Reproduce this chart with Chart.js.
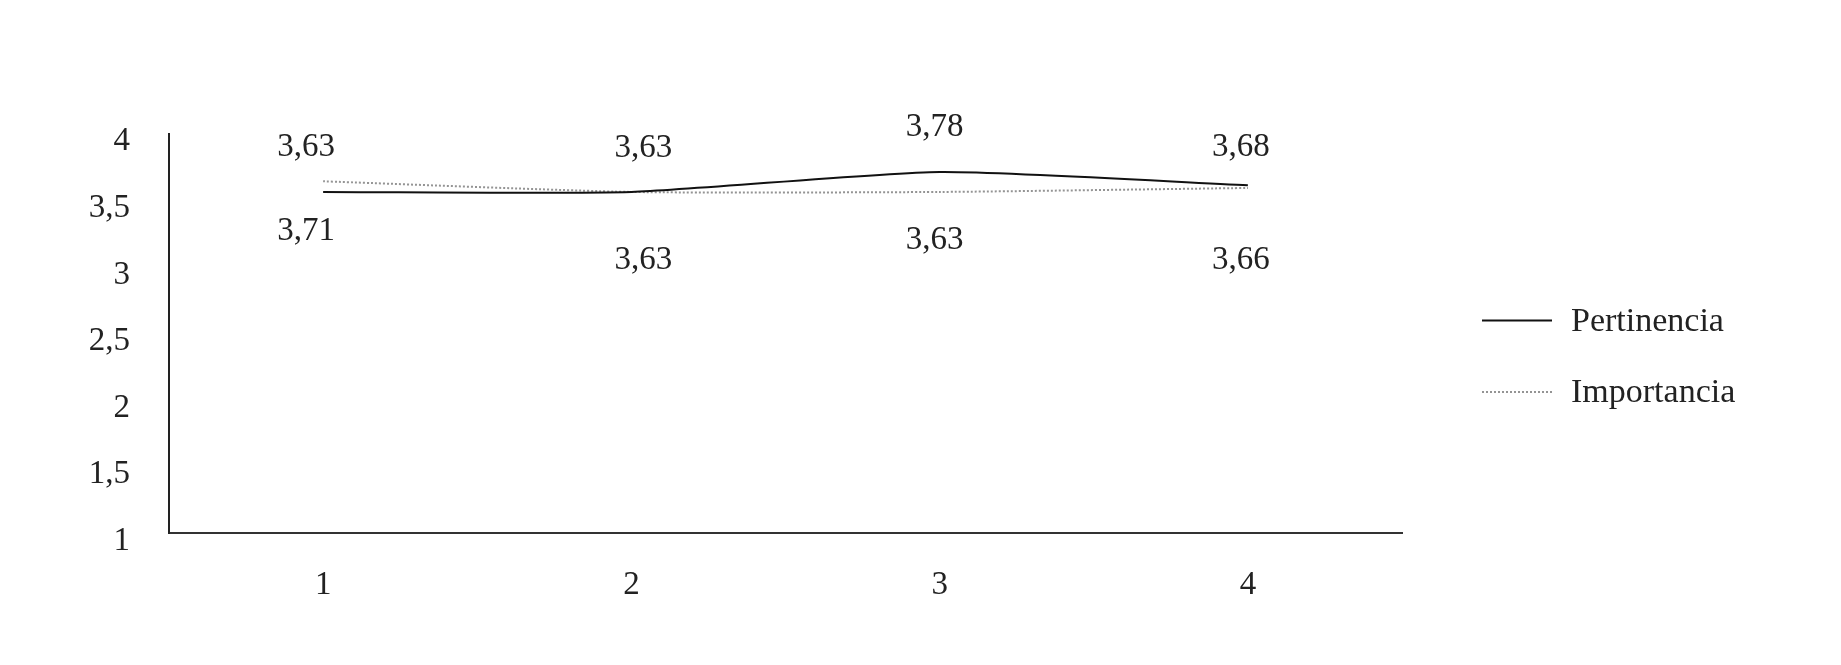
<!DOCTYPE html>
<html>
<head>
<meta charset="utf-8">
<script src="https://cdn.jsdelivr.net/npm/chart.js@4.4.1/dist/chart.umd.min.js"></script>
<style>
  html, body { margin: 0; padding: 0; background: #ffffff; }
  #wrap { width: 1841px; height: 665px; position: relative; }
</style>
</head>
<body>
<div id="wrap"><canvas id="c" width="1841" height="665"></canvas></div>
<script>
// ---- data ----
const categories = ['1', '2', '3', '4'];
const pertinencia = [3.63, 3.63, 3.78, 3.68];
const importancia = [3.71, 3.63, 3.63, 3.66];
const yTickValues = [1, 1.5, 2, 2.5, 3, 3.5, 4];
const seriesNames = ['Pertinencia', 'Importancia'];

// ---- label nudges (style) ----
const labelNudgeX = [-17, 12, -5, -7];
const labelNudgeAbove = [-45, -44, -45, -38];
const labelNudgeBelow = [50, 68, 48, 72];

const FONT = '"Liberation Serif", "Times New Roman", serif';
const TEXT = '#222222';
const fmt = v => String(v).replace('.', ',');

const valueLabels = {
  id: 'valueLabels',
  afterDatasetsDraw(chart) {
    const ctx = chart.ctx;
    ctx.save();
    ctx.font = '33px ' + FONT;
    ctx.fillStyle = TEXT;
    ctx.textAlign = 'center';
    ctx.textBaseline = 'middle';
    chart.data.datasets.forEach((ds, di) => {
      const meta = chart.getDatasetMeta(di);
      meta.data.forEach((pt, i) => {
        const dy = di === 0 ? labelNudgeAbove[i] : labelNudgeBelow[i];
        ctx.fillText(fmt(ds.data[i]), pt.x + labelNudgeX[i], pt.y + dy);
      });
    });
    ctx.restore();
  }
};

const sideLegend = {
  id: 'sideLegend',
  afterDraw(chart) {
    const ctx = chart.ctx;
    ctx.save();
    const x0 = 1482, x1 = 1552, tx = 1571;
    const rows = [320.5, 392];
    chart.data.datasets.forEach((ds, i) => {
      const y = rows[i];
      ctx.beginPath();
      ctx.strokeStyle = ds.borderColor;
      ctx.lineWidth = ds.borderWidth;
      ctx.setLineDash(ds.borderDash || []);
      ctx.moveTo(x0, y);
      ctx.lineTo(x1, y);
      ctx.stroke();
      ctx.setLineDash([]);
      ctx.font = '34px ' + FONT;
      ctx.fillStyle = TEXT;
      ctx.textAlign = 'left';
      ctx.textBaseline = 'alphabetic';
      ctx.fillText(ds.label, tx, y + 10);
    });
    ctx.restore();
  }
};

new Chart(document.getElementById('c'), {
  type: 'line',
  data: {
    labels: categories,
    datasets: [
      {
        label: seriesNames[0],
        data: pertinencia,
        borderColor: '#111111',
        borderWidth: 2,
        pointRadius: 0,
        tension: 0.2,
        fill: false
      },
      {
        label: seriesNames[1],
        data: importancia,
        borderColor: '#949494',
        borderWidth: 2,
        borderDash: [2, 2],
        pointRadius: 0,
        tension: 0.2,
        fill: false
      }
    ]
  },
  options: {
    responsive: false,
    animation: false,
    events: [],
    layout: { padding: { top: 134, right: 439, bottom: 0, left: 0 } },
    plugins: {
      legend: { display: false },
      tooltip: { enabled: false },
      title: { display: false }
    },
    scales: {
      x: {
        offset: true,
        grid: { display: false, drawTicks: false },
        border: { display: true, color: '#333333', width: 2 },
        ticks: {
          color: TEXT,
          font: { family: FONT, size: 33 },
          padding: 33,
          maxRotation: 0
        },
        afterFit(scale) { scale.height = 132; }
      },
      y: {
        min: 1.07,
        max: 4.065,
        bounds: 'data',
        grid: { display: false, drawTicks: false },
        border: { display: true, color: '#222222', width: 2 },
        ticks: {
          color: TEXT,
          font: { family: FONT, size: 33 },
          padding: 39,
          labelOffset: -1,
          callback: v => fmt(v)
        },
        afterBuildTicks(scale) {
          scale.ticks = yTickValues.map(v => ({ value: v }));
        },
        afterFit(scale) { scale.width = 169; }
      }
    }
  },
  plugins: [valueLabels, sideLegend]
});
</script>
</body>
</html>
